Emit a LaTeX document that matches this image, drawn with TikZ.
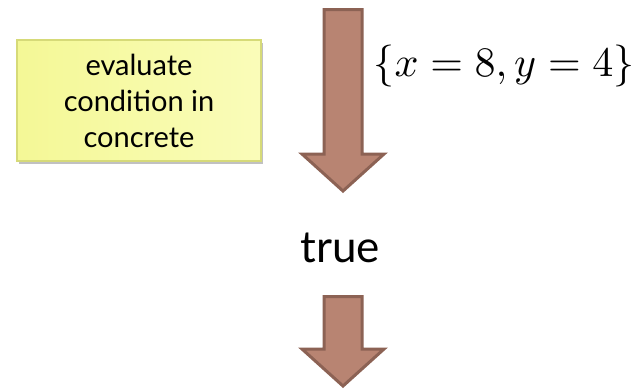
\documentclass[tikz,border=0pt]{standalone}
\usepackage{graphicx}
\usepackage{fontspec}
\setmainfont{Lato}
\usetikzlibrary{shadows}
\definecolor{arrowfill}{RGB}{184,132,114}
\definecolor{arrowdraw}{RGB}{140,98,84}
\definecolor{boxfill}{RGB}{244,248,150}
\definecolor{boxfillb}{RGB}{250,252,185}
\definecolor{boxdraw}{RGB}{214,218,120}
\tikzset{
  bigarrow/.style={fill=arrowfill, draw=arrowdraw, line width=3pt, line join=miter},
  notebox/.style={draw=boxdraw, line width=1.2pt, left color=boxfill, right color=boxfillb,
    minimum width=244pt, minimum height=121pt, align=center, inner sep=0pt,
    font=\fontsize{29}{36}\selectfont,
    drop shadow={shadow xshift=2pt, shadow yshift=-3pt, opacity=0.4, fill=black!60}},
}
\begin{document}
\begin{tikzpicture}[x=1pt,y=-1pt]
\useasboundingbox (0,0) rectangle (644,389);
\fill[white] (0,0) rectangle (644,389);
% top arrow
\draw[bigarrow] (324,9.5) -- (362,9.5) -- (362,154) -- (384,154) -- (343,191) -- (302,154) -- (324,154) -- cycle;
% bottom arrow
\draw[bigarrow] (324,296.5) -- (362,296.5) -- (362,349) -- (384,349) -- (343,386) -- (302,349) -- (324,349) -- cycle;
\node[notebox] (box) at (139,100.5) {evaluate\\condition in\\concrete};
\node (env) at (504,66) {\scalebox{4.2}{$\{x = 8, y = 4\}$}};
\node[font=\fontsize{44}{48}\selectfont, anchor=base] (res) at (340,262) {true};
\end{tikzpicture}
\end{document}
